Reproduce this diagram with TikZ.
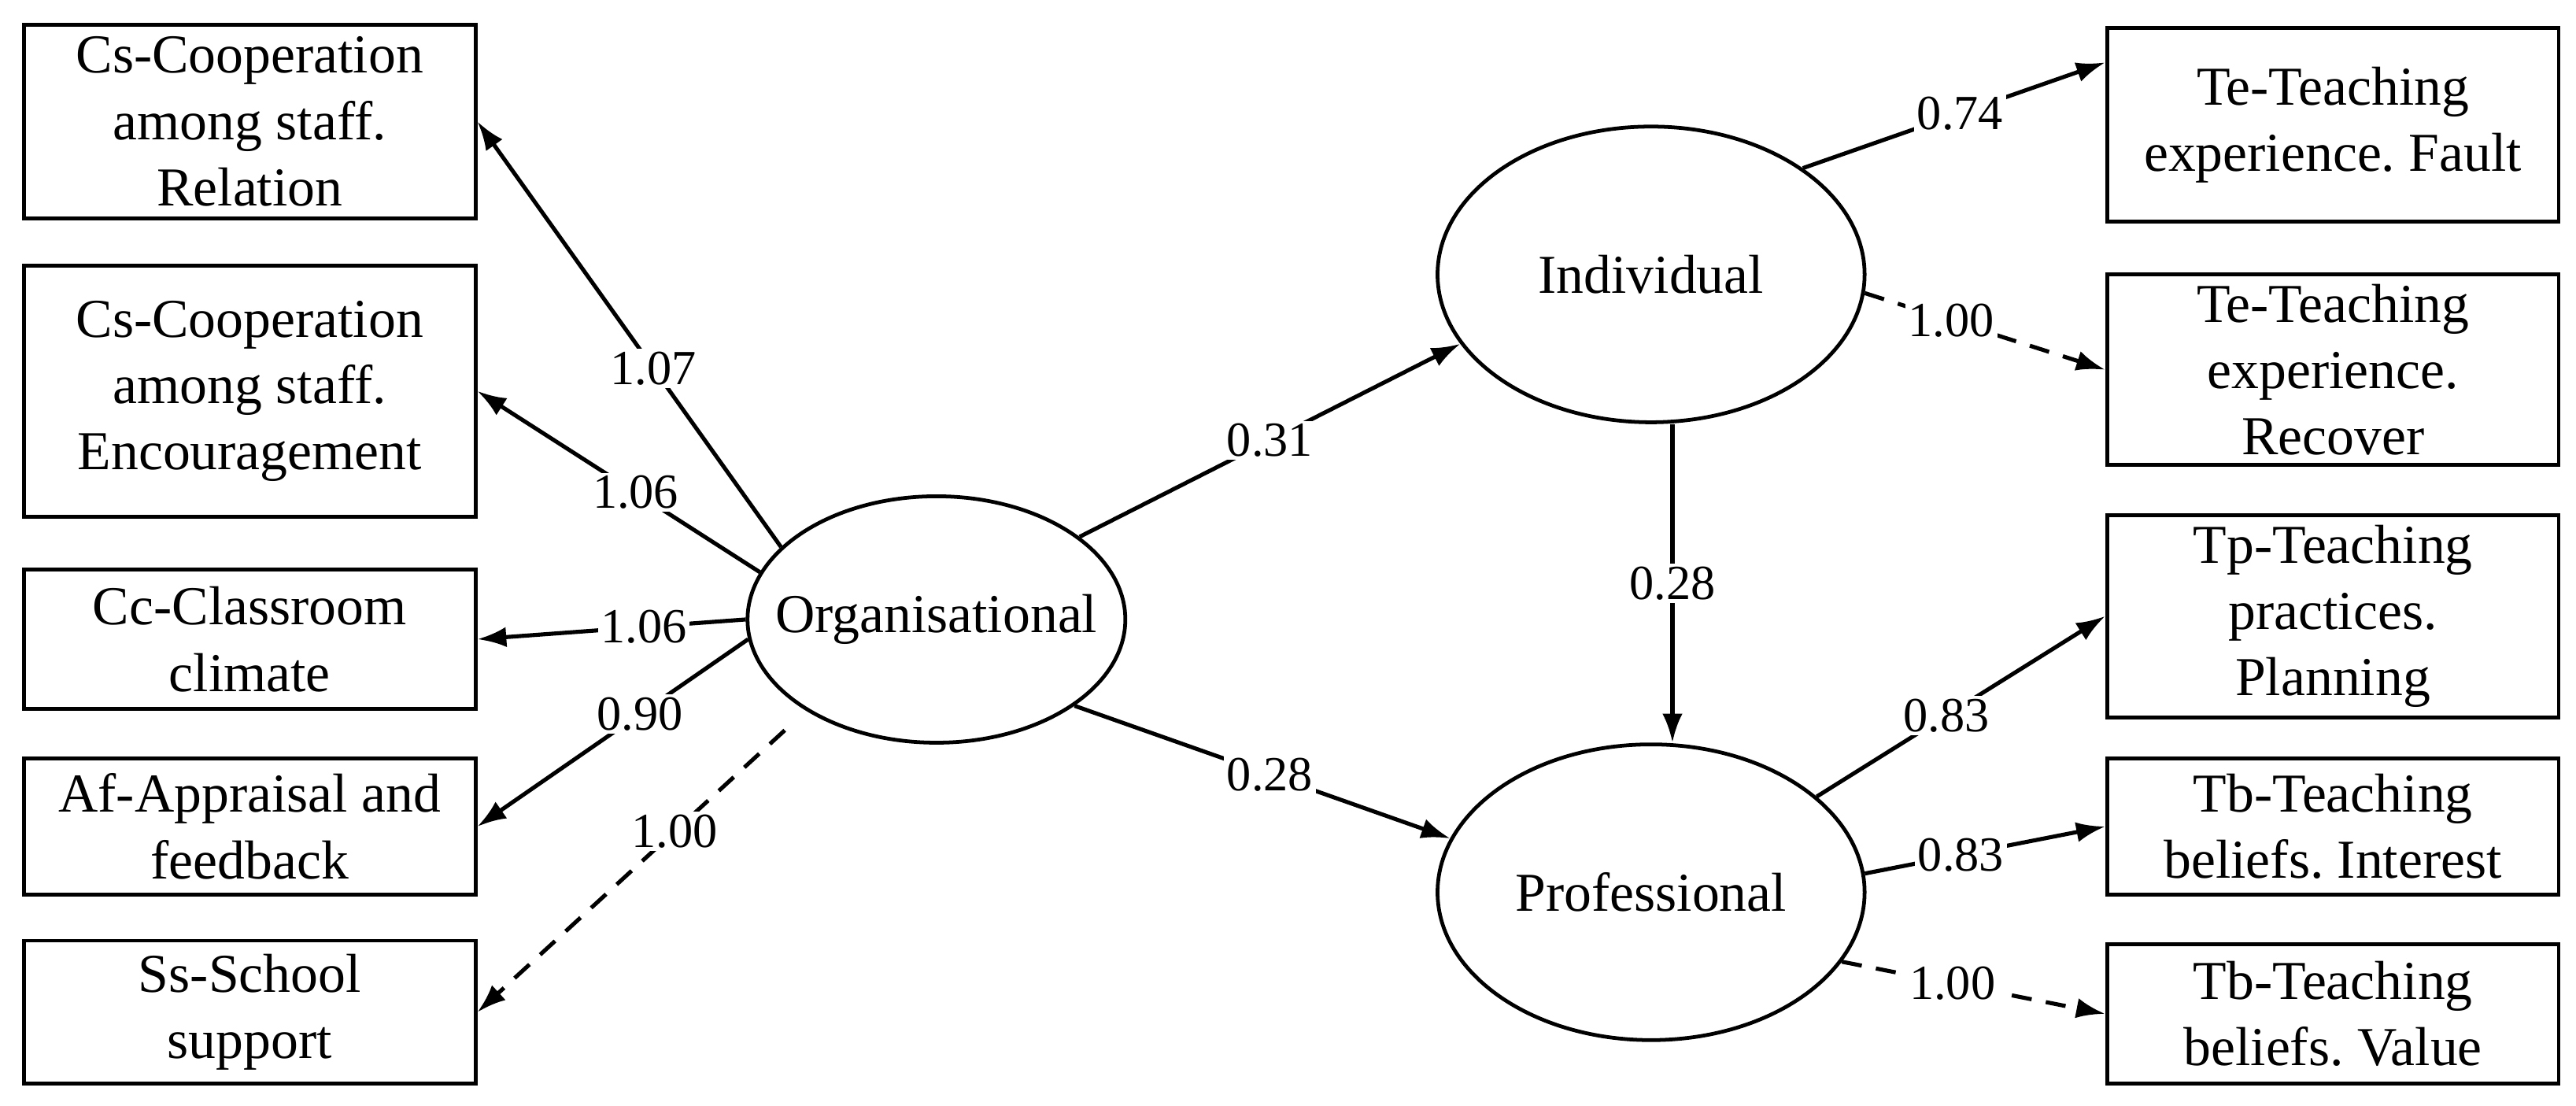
\documentclass[tikz,border=0pt]{standalone}
\usepackage{fontspec}
\setmainfont{Liberation Serif}
\usetikzlibrary{positioning, shapes.geometric, arrows.meta}

\tikzset{
  box/.style = {shape = rectangle, draw = black, line width = 1.3pt, minimum width = 5.5cm, align = center, inner sep = 2pt, font = \fontsize{19}{23}\selectfont},
  latent/.style = {shape = ellipse, draw = black, line width = 1.3pt, inner sep = 0pt, font = \fontsize{19}{23}\selectfont},
  path/.style = {-{Latex[length = 10pt, width = 7pt]}, line width = 1.4pt},
  fixed/.style = {path, dashed, dash pattern = on 7pt off 5pt},
  coef/.style = {fill = white, inner sep = 1pt, font = \fontsize{17}{19}\selectfont}
}

\begin{document}
\frenchspacing
\begin{tikzpicture}[x = 0.02cm, y = -0.02cm]
            \useasboundingbox (0, 0) rectangle (1568, 673);

            \node [box, minimum height = 2.36cm] (cs1) at (152, 74) {Cs-Cooperation\\among staff.\\Relation};
            \node [box, minimum height = 3.06cm] (cs2) at (152, 238) {Cs-Cooperation\\among staff.\\Encouragement};
            \node [box, minimum height = 1.7cm] (cc) at (152, 389) {Cc-Classroom\\climate};
            \node [box, minimum height = 1.66cm] (af) at (152, 503) {Af-Appraisal and\\feedback};
            \node [box, minimum height = 1.74cm] (ss) at (152, 616) {Ss-School\\support};

            \node [box, minimum height = 2.36cm] (te1) at (1420, 76) {Te-Teaching\\experience. Fault};
            \node [box, minimum height = 2.32cm] (te2) at (1420, 225) {Te-Teaching\\experience.\\Recover};
            \node [box, minimum height = 2.46cm] (tp) at (1420, 375) {Tp-Teaching\\practices.\\Planning};
            \node [box, minimum height = 1.66cm] (tb1) at (1420, 503) {Tb-Teaching\\beliefs. Interest};
            \node [box, minimum height = 1.7cm] (tb2) at (1420, 617) {Tb-Teaching\\beliefs. Value};

            \node [latent, inner xsep = -0.38cm, minimum width = 4.6cm, minimum height = 3cm] (org) at (570, 377) {Organisational};
            \node [latent, minimum width = 5.2cm, minimum height = 3.6cm] (ind) at (1005, 167) {Individual};
            \node [latent, minimum width = 5.2cm, minimum height = 3.6cm] (pro) at (1005, 543) {Professional};

            \draw [path] (org.155) -- (cs1.east) node [coef, pos = 0.42] {1.07};
            \draw [path] (org.165) -- (cs2.east) node [coef, pos = 0.44] {1.06};
            \draw [path] (org.180) -- (cc.east) node [coef, pos = 0.38] {1.06};
            \draw [path] (org.186) -- (af.east) node [coef, pos = 0.4] {0.90};
            \draw [fixed, shorten < = 10pt] (org.215) -- (ss.east) node [coef, pos = 0.4] {1.00};

            \draw [path] (org.30) -- (ind.200) node [coef, midway] {0.31};
            \draw [path] (org.-32) -- (pro.165) node [coef, pos = 0.52] {0.28};
            \draw [path] ([xshift = 0.26cm]ind.south) -- ([xshift = 0.26cm]pro.north) node [coef, midway] {0.28};

            \draw [path] (ind.35) -- ([yshift = 0.76cm]te1.west) node [coef, pos = 0.52] {0.74};
            \draw [fixed] (ind.-5) -- (te2.west) node [coef, pos = 0.36] {1.00};
            \draw [path] (pro.30) -- (tp.west) node [coef, pos = 0.45] {0.83};
            \draw [path] (pro.5) -- (tb1.west) node [coef, pos = 0.4] {0.83};
            \draw [fixed] (pro.-20) -- (tb2.west) node [coef, pos = 0.42] {1.00};
        \end{tikzpicture}
\end{document}
